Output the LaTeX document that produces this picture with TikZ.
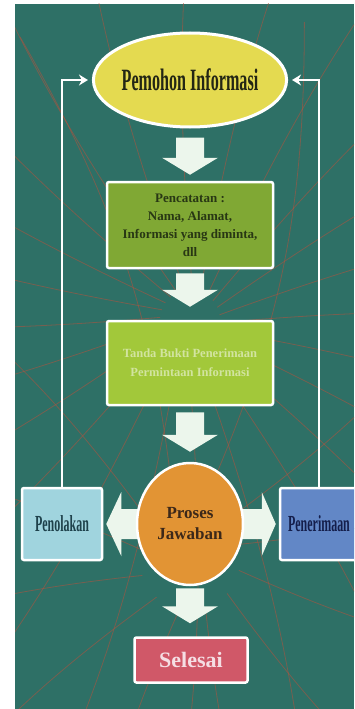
\documentclass[tikz,border=0pt]{standalone}
\usepackage{fontspec}
\setmainfont{Liberation Serif}
\newfontfamily\narrowfont[FakeStretch=0.52]{Liberation Serif}
\usetikzlibrary{shapes.geometric,calc,arrows.meta}

\definecolor{panel}{RGB}{46,112,102}
\definecolor{web}{RGB}{178,82,62}
\definecolor{pemohonfill}{RGB}{228,218,80}
\definecolor{pemohontext}{RGB}{35,38,20}
\definecolor{catatfill}{RGB}{128,168,52}
\definecolor{catattext}{RGB}{40,55,20}
\definecolor{buktifill}{RGB}{162,200,58}
\definecolor{buktitext}{RGB}{210,228,160}
\definecolor{prosesfill}{RGB}{226,148,52}
\definecolor{prosestext}{RGB}{60,40,25}
\definecolor{nolakfill}{RGB}{160,212,222}
\definecolor{nolaktext}{RGB}{30,65,75}
\definecolor{terimafill}{RGB}{98,135,198}
\definecolor{terimatext}{RGB}{20,30,75}
\definecolor{selesaifill}{RGB}{208,88,104}
\definecolor{selesaitext}{RGB}{245,222,228}
\definecolor{arrowwhite}{RGB}{236,246,236}

\pgfdeclarelayer{back}
\pgfdeclarelayer{mid}
\pgfsetlayers{back,mid,main}

% block arrow pointing down: from, to, gap at top, gap at tip
\newcommand{\blockdown}[4]{%
  \fill[blockfill] let \p1=(#1.south), \p2=(#2.north) in
    (\x1-14pt,\y1-#3) -- (\x1+14pt,\y1-#3) -- (\x1+14pt,\y2+#4+17pt) -- (\x1+28pt,\y2+#4+17pt)
    -- (\x1,\y2+#4) -- (\x1-28pt,\y2+#4+17pt) -- (\x1-14pt,\y2+#4+17pt) -- cycle;}
% block arrows pointing sideways out of a node
\newcommand{\blockleft}[2]{%
  \fill[blockfill] let \p1=(#1.center), \p2=(#2.east) in
    (\x1,\y1-15pt) -- (\x2+18pt,\y1-15pt) -- (\x2+18pt,\y1-32pt) -- (\x2+3pt,\y1)
    -- (\x2+18pt,\y1+32pt) -- (\x2+18pt,\y1+15pt) -- (\x1,\y1+15pt) -- cycle;}
\newcommand{\blockright}[2]{%
  \fill[blockfill] let \p1=(#1.center), \p2=(#2.west) in
    (\x1,\y1-15pt) -- (\x2-17pt,\y1-15pt) -- (\x2-17pt,\y1-32pt) -- (\x2-3pt,\y1)
    -- (\x2-17pt,\y1+32pt) -- (\x2-17pt,\y1+15pt) -- (\x1,\y1+15pt) -- cycle;}

\begin{document}
\begin{tikzpicture}[x=1pt,y=-1pt,
    box/.style={draw=white,line width=2.5pt,rounded corners=2pt,inner sep=0pt},
    blockfill/.style={fill=arrowwhite},
    backline/.style={draw=web,line width=0.8pt,opacity=0.55},
    feedback/.style={draw=white,line width=1.6pt,-{Stealth[length=9pt,width=11pt]},shorten >=4pt}]
	\clip (0,0) rectangle (354,709);
	\begin{pgfonlayer}{back}
		\fill[panel] (15,4) rectangle (354,709);
		\begin{scope}
			\clip (15,4) rectangle (354,709);
			\foreach \a in {5,20,...,355}
				\draw[backline] (190,320) ++(\a:30) to[bend left=10] ++(\a:700);
			\foreach \a in {12,42,...,342}
				\draw[backline] (190,560) ++(\a:50) to[bend right=12] ++(\a:500);
		\end{scope}
	\end{pgfonlayer}
	\node[draw=white,line width=3pt,ellipse,fill=pemohonfill,minimum width=184pt,minimum height=94pt,inner sep=0pt,text=pemohontext,font=\narrowfont\bfseries\fontsize{31}{32}\selectfont] (pemohon)at(190,80) {Pemohon Informasi};
	\node[box,fill=catatfill,minimum width=166pt,minimum height=86pt,align=center,text=catattext,font=\bfseries\fontsize{13}{18}\selectfont] (catat)at(190,225) {Pencatatan :\\Nama, Alamat,\\Informasi yang diminta,\\dll};
	\node[box,fill=buktifill,minimum width=166pt,minimum height=84pt,align=center,text=buktitext,font=\bfseries\fontsize{12.5}{19}\selectfont] (bukti)at(190,363) {Tanda Bukti Penerimaan\\Permintaan Informasi};
	\node[draw=white,line width=2.5pt,ellipse,fill=prosesfill,minimum width=106pt,minimum height=122pt,inner sep=0pt,align=center,text=prosestext,font=\bfseries\fontsize{17}{21}\selectfont] (proses)at(190,524) {Proses\\Jawaban};
	\node[box,fill=nolakfill,minimum width=80pt,minimum height=72pt,text=nolaktext,font=\narrowfont\bfseries\fontsize{23}{24}\selectfont] (nolak)at(62,524) {Penolakan};
	\node[box,fill=terimafill,minimum width=78pt,minimum height=72pt,text=terimatext,font=\narrowfont\bfseries\fontsize{23}{24}\selectfont] (terima)at(319,524) {Penerimaan};
	\node[box,fill=selesaifill,minimum width=113pt,minimum height=45pt,text=selesaitext,font=\bfseries\fontsize{22}{24}\selectfont] (selesai)at(191,660) {Selesai};
	\begin{pgfonlayer}{mid}
		\blockdown{pemohon}{catat}{9pt}{6pt}
		\blockdown{catat}{bukti}{4pt}{13pt}
		\blockdown{bukti}{proses}{6pt}{10pt}
		\blockdown{proses}{selesai}{2pt}{13pt}
		\blockleft{proses}{nolak}
		\blockright{proses}{terima}
	\end{pgfonlayer}
	\draw[feedback] (nolak.north) |- (pemohon.west);
	\draw[feedback] (terima.north) |- (pemohon.east);
\end{tikzpicture}
\end{document}
